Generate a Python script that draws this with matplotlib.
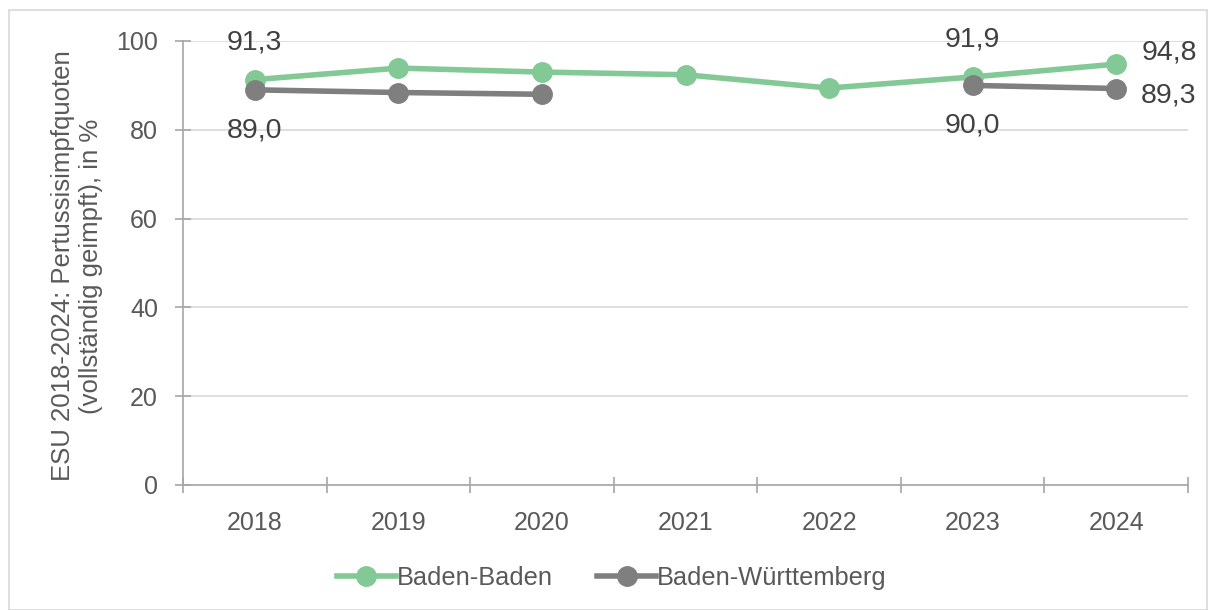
import numpy as np
import matplotlib
matplotlib.use("Agg")
import matplotlib.pyplot as plt
from matplotlib.patches import Rectangle

years = ["2018", "2019", "2020", "2021", "2022", "2023", "2024"]
baden_baden = [91.3, 93.9, 93.0, 92.4, 89.4, 91.9, 94.8]
baden_wuerttemberg = [89.0, 88.4, 88.0, np.nan, np.nan, 90.0, 89.3]
y_ticks = [0, 20, 40, 60, 80, 100]
ylabel = "ESU 2018-2024: Pertussisimpfquoten\n(vollständig geimpft), in %"

plt.rcParams['font.family'] = ['Liberation Sans', 'DejaVu Sans']

GREEN = "#82C995"
GREY = "#7F7F7F"
TXT = "#595959"
LBL = "#404040"
AX = "#a6a6a6"

W, H = 1214, 610
fig = plt.figure(figsize=(W/100, H/100), dpi=100)
ax = fig.add_axes([183/W, 1-485/H, (1188-183)/W, (485-41)/H])

x = np.arange(len(years))
ax.plot(x, baden_baden, color=GREEN, lw=4, marker='o', ms=14, label="Baden-Baden", zorder=3)
ax.plot(x, baden_wuerttemberg, color=GREY, lw=4, marker='o', ms=14, label="Baden-Württemberg", zorder=4)

ax.set_xlim(-0.5, len(years)-0.5)
ax.set_ylim(0, 100)
ax.set_yticks(y_ticks)
ax.set_xticks(x)
ax.set_xticklabels(years)
ax.set_xticks(np.arange(-0.5, len(years)), minor=True)
ax.tick_params(axis='x', which='major', length=0, pad=19, labelsize=18, labelcolor=TXT)
ax.tick_params(axis='x', which='minor', length=12, direction='inout', color=AX, width=1.2)
ax.tick_params(axis='y', length=12, direction='inout', color=AX, width=1.2, pad=12, labelsize=18, labelcolor=TXT)
ax.grid(axis='y', color="#d9d9d9", lw=1.2, zorder=0)
ax.set_axisbelow(True)
for s in ['top', 'right']:
    ax.spines[s].set_visible(False)
for s in ['left', 'bottom']:
    ax.spines[s].set_color(AX)
    ax.spines[s].set_linewidth(1.2)

fs = 20.5
def lab(i, v, dx, dy, ha='center'):
    ax.annotate(f"{v:.1f}".replace('.', ','), (x[i], v), xytext=(dx, dy),
                textcoords='offset points', ha=ha, va='center', fontsize=fs, color=LBL, zorder=5)

lab(0, baden_baden[0], 0, 27)
lab(0, baden_wuerttemberg[0], 0, -29)
lab(5, baden_baden[5], 0, 27)
lab(5, baden_wuerttemberg[5], 0, -29)
lab(6, baden_baden[6], 18, 8.5, 'left')
lab(6, baden_wuerttemberg[6], 18, -5, 'left')

fig.text(77/W, 1-266/H, ylabel, rotation=90, ha='center', va='center',
         fontsize=18.5, color=TXT, linespacing=1.2)

leg = fig.legend(loc='center', bbox_to_anchor=(0.504, 1-578/H), ncol=2, frameon=False,
                 fontsize=18.3, labelcolor=TXT, handlelength=2.3, handletextpad=0.05,
                 columnspacing=1.75, markerscale=1.0)

fig.patches.append(Rectangle((9/W, 0), (1207-9)/W, 1-10/H, transform=fig.transFigure,
                             fill=False, edgecolor="#d9d9d9", lw=1.2))

fig.savefig("out.png", dpi=100, facecolor='white')
